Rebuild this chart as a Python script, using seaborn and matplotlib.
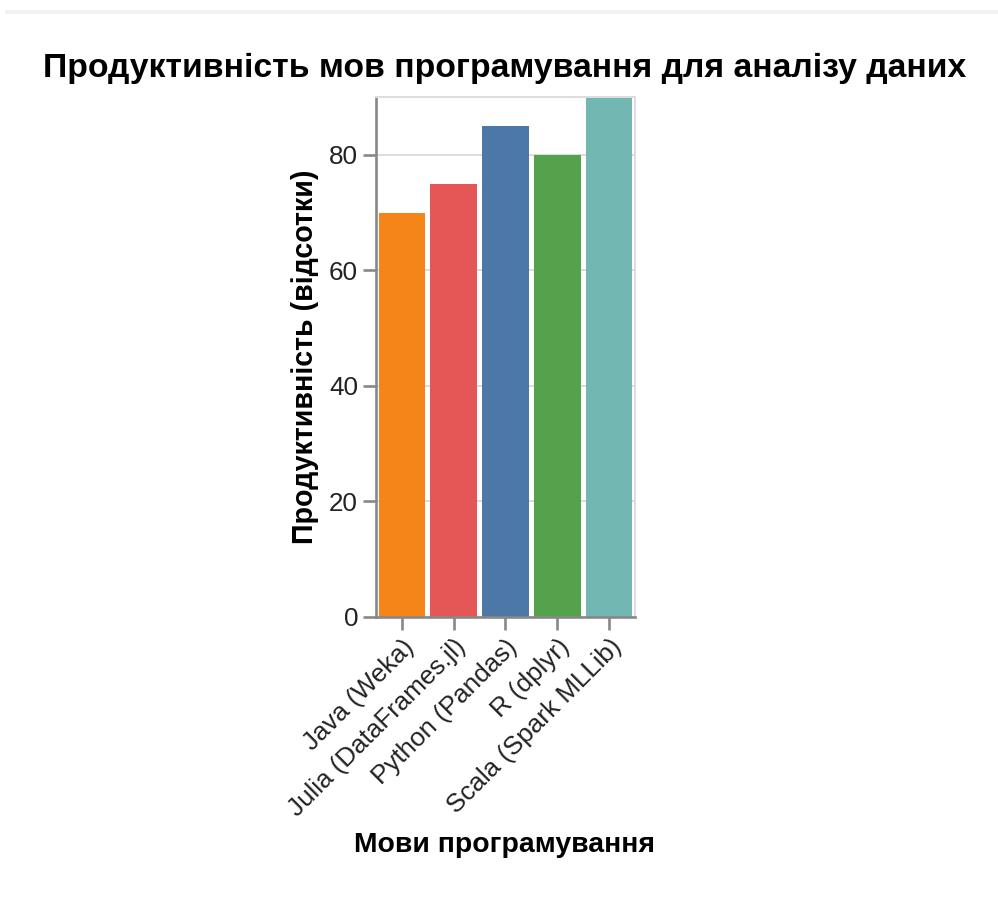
import matplotlib
matplotlib.use("Agg")
import matplotlib.pyplot as plt
import seaborn as sns
import pandas as pd
from matplotlib.patches import Rectangle

languages = ["Java (Weka)", "Julia (DataFrames.jl)", "Python (Pandas)", "R (dplyr)", "Scala (Spark MLLib)"]
productivity = [70, 75, 85, 80, 90]
colors = ["#f58518", "#e45756", "#4c78a8", "#54a24b", "#72b7b2"]
y_ticks = [0, 20, 40, 60, 80]

title = "Продуктивність мов програмування для аналізу даних"
x_title = "Мови програмування"
y_title = "Продуктивність (відсотки)"

sns.set_theme(style="white")
plt.rcParams["font.family"] = ["Liberation Sans", "DejaVu Sans"]

df = pd.DataFrame({"lang": languages, "value": productivity})

W, H = 998, 899
fig = plt.figure(figsize=(W / 100, H / 100), dpi=100)
fig.patch.set_facecolor("white")

L, R, T, B = 376, 635, 97, 617
ax = fig.add_axes([L / W, 1 - B / H, (R - L) / W, (B - T) / H])

sns.barplot(data=df, x="lang", y="value", hue="lang", palette=colors,
            width=0.9, legend=False, ax=ax, saturation=1, edgecolor="none")

ax.set_xlim(-0.5, len(languages) - 0.5)
ax.set_ylim(0, 90)
ax.set_yticks(y_ticks)
ax.set_yticklabels([str(t) for t in y_ticks])
ax.yaxis.grid(True, color="#dddddd", linewidth=1.4, zorder=0)
ax.set_axisbelow(True)

for side in ["top", "right"]:
    ax.spines[side].set_color("#dddddd")
    ax.spines[side].set_linewidth(1.4)
for side in ["left", "bottom"]:
    ax.spines[side].set_color("#888888")
    ax.spines[side].set_linewidth(1.9)

ax.tick_params(axis="both", which="both", length=9.4, width=1.9, color="#888888",
               labelsize=18.7, labelcolor="#222222", pad=3.5, direction="out")
ax.tick_params(axis="x", bottom=True)
ax.tick_params(axis="y", left=True)

for lbl in ax.get_xticklabels():
    lbl.set_rotation(45)
    lbl.set_ha("right")
    lbl.set_va("top")
    lbl.set_rotation_mode("anchor")

ax.set_xlabel("")
ax.set_ylabel("")

fig.text(505 / W, 1 - 68 / H, title, ha="center", va="center",
         fontsize=24.3, fontweight="bold", color="black")
fig.text(505 / W, 1 - 845 / H, x_title, ha="center", va="center",
         fontsize=20.4, fontweight="bold", color="black")
fig.text(305 / W, 1 - 357 / H, y_title, ha="center", va="center", rotation=90,
         fontsize=20.6, fontweight="bold", color="black")

fig.patches.append(Rectangle((5 / W, 1 - 14 / H), (W - 5) / W, 4 / H,
                             transform=fig.transFigure, facecolor="#f2f2f2",
                             edgecolor="none", zorder=0))

fig.savefig("out.png", dpi=100, facecolor="white")
